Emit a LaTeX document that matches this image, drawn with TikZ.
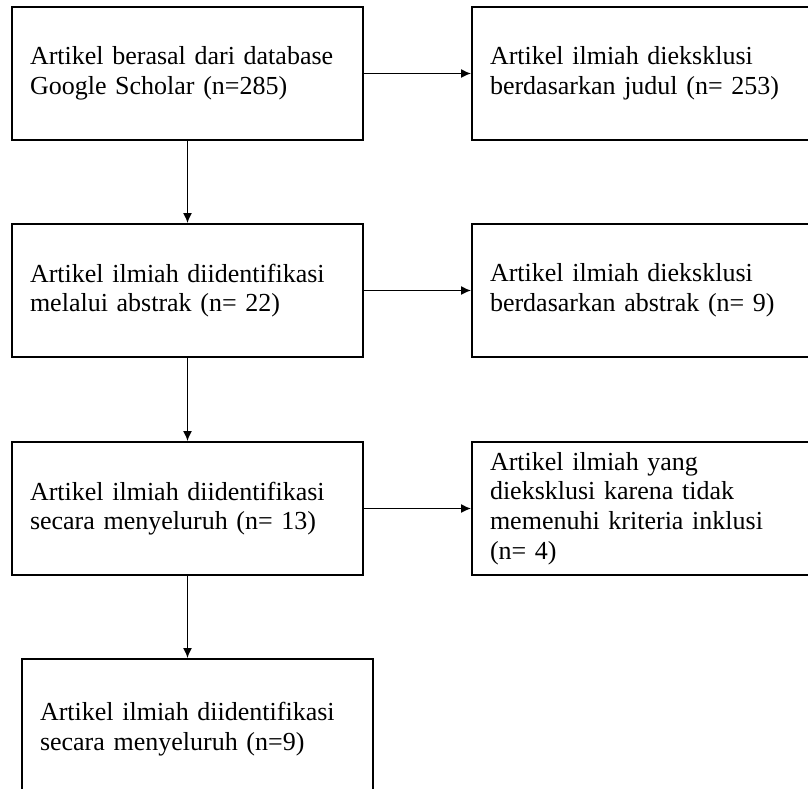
\documentclass[tikz,border=0pt]{standalone}
\usepackage{fontspec}
\setmainfont{Liberation Serif}
\usepackage{tikz}
\usetikzlibrary{arrows.meta, positioning}

\begin{document}
\begin{tikzpicture}[x=0.5pt,y=-0.5pt,
  box/.style={draw,line width=0.9pt,minimum width=175.5pt,minimum height=66.5pt,
    text width=157.5pt,inner xsep=9pt,align=left,font=\fontsize{13}{14.8}\selectfont},
  arr/.style={line width=0.8pt,-{Latex[length=5pt,width=4.5pt]}}]
\clip (0,0) rectangle (808,788);
% left column
\node[box] (src) at (187.5,73.5) {Artikel berasal dari database\\Google Scholar (n=285)};
\node[box] (abs) at (187.5,290.5) {Artikel ilmiah diidentifikasi\\melalui abstrak (n= 22)};
\node[box] (full) at (187.5,508.5) {Artikel ilmiah diidentifikasi\\secara menyeluruh (n= 13)};
\node[box,minimum height=70pt] (final) at (197.5,729) {Artikel ilmiah diidentifikasi\\secara menyeluruh (n=9)};
% right column
\node[box] (excl1) at (647.5,73.5) {Artikel ilmiah dieksklusi\\berdasarkan judul (n= 253)};
\node[box] (excl2) at (647.5,290.5) {Artikel ilmiah dieksklusi\\berdasarkan abstrak (n= 9)};
\node[box] (excl3) at (647.5,508.5) {Artikel ilmiah yang\\dieksklusi karena tidak\\memenuhi kriteria inklusi\\(n= 4)};
% arrows
\draw[arr] (src.east) -- (excl1.west);
\draw[arr] (abs.east) -- (excl2.west);
\draw[arr] (full.east) -- (excl3.west);
\draw[arr] (src.south) -- (abs.north);
\draw[arr] (abs.south) -- (full.north);
\draw[arr] (full.south) -- (full.south |- final.north);
\end{tikzpicture}
\end{document}
